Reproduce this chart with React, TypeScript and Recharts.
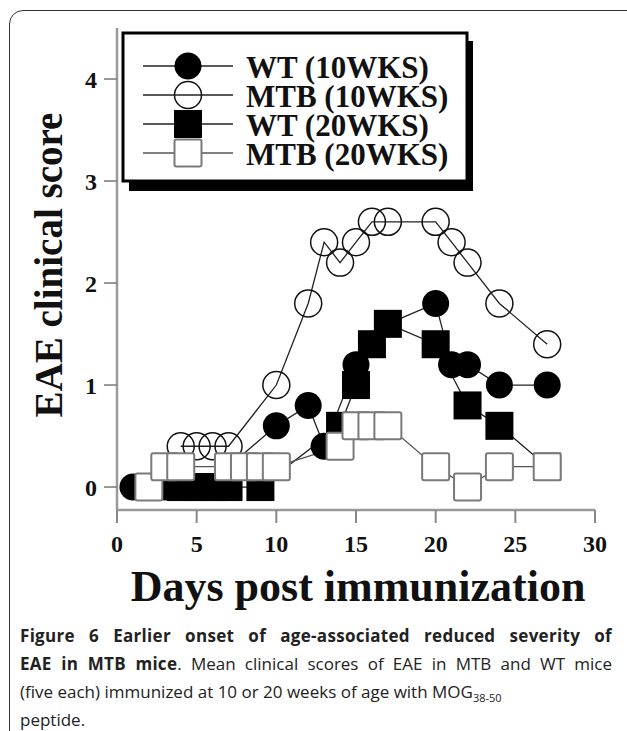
import { Legend, Line, LineChart, XAxis, YAxis } from "recharts";

// EAE clinical score by day post immunization
const wt10Days = [1, 2, 3, 4, 5, 6, 7, 10, 12, 13, 15, 16, 17, 20, 21, 22, 24, 27];
const wt10Scores = [0, 0, 0, 0, 0, 0, 0.2, 0.6, 0.8, 0.4, 1.2, 1.4, 1.6, 1.8, 1.2, 1.2, 1.0, 1.0];

const mtb10Days = [4, 5, 6, 7, 10, 12, 13, 14, 15, 16, 17, 20, 21, 22, 24, 27];
const mtb10Scores = [0.4, 0.4, 0.4, 0.4, 1.0, 1.8, 2.4, 2.2, 2.4, 2.6, 2.6, 2.6, 2.4, 2.2, 1.8, 1.4];

const wt20Days = [4, 5, 6, 7, 9, 14, 15, 16, 17, 20, 22, 24, 27];
const wt20Scores = [0, 0, 0, 0, 0, 0.6, 1.0, 1.4, 1.6, 1.4, 0.8, 0.6, 0.2];

const mtb20Days = [2, 3, 4, 7, 8, 9, 10, 14, 15, 16, 17, 20, 22, 24, 27];
const mtb20Scores = [0, 0.2, 0.2, 0.2, 0.2, 0.2, 0.2, 0.4, 0.6, 0.6, 0.6, 0.2, 0, 0.2, 0.2];

const xTicks = [0, 5, 10, 15, 20, 25, 30];
const yTicks = [0, 1, 2, 3, 4];

const seriesNames = ["WT (10WKS)", "MTB (10WKS)", "WT (20WKS)", "MTB (20WKS)"];

type Kind = "fillCircle" | "openCircle" | "fillSquare" | "openSquare";

const toPoints = (days: number[], scores: number[]) =>
  days.map((d, i) => ({ d, v: scores[i] }));

const SERIF = "'Liberation Serif', 'Times New Roman', serif";
const AXIS_GRAY = "#9a9a9a";

function Marker({ cx, cy, kind }: { cx?: number; cy?: number; kind: Kind }) {
  if (cx == null || cy == null) return null;
  if (kind === "fillCircle") return <circle cx={cx} cy={cy} r={13.5} fill="#000" />;
  if (kind === "openCircle")
    return <circle cx={cx} cy={cy} r={13.5} fill="none" stroke="#111" strokeWidth={1.5} />;
  if (kind === "fillSquare")
    return <rect x={cx - 14} y={cy - 14} width={28} height={28} fill="#000" />;
  return (
    <rect x={cx - 13.5} y={cy - 13.5} width={27} height={27} rx={2} fill="#fff" stroke="#7a7a7a" strokeWidth={2} />
  );
}

const dotFor = (kind: Kind) => (p: any) => <Marker key={`${kind}-${p.index}`} cx={p.cx} cy={p.cy} kind={kind} />;

const legendKinds: Kind[] = ["fillCircle", "openCircle", "fillSquare", "openSquare"];

function LegendBox() {
  return (
    <svg width={362} height={170}>
      <rect x={9} y={11} width={344} height={150} fill="#000" />
      <rect x={3} y={3} width={344} height={148} fill="#fff" stroke="#000" strokeWidth={3} />
      {seriesNames.map((name, i) => {
        const y = 36 + i * 29;
        const gray = legendKinds[i] === "openSquare";
        return (
          <g key={name}>
            <line x1={23} x2={113} y1={y} y2={y} stroke={gray ? "#555" : "#222"} strokeWidth={1.5} />
            <Marker cx={68} cy={y} kind={legendKinds[i]} />
            <text
              x={126}
              y={y + 1}
              dominantBaseline="central"
              fontFamily={SERIF}
              fontWeight={700}
              fontSize={31}
              fill="#111"
            >
              {name}
            </text>
          </g>
        );
      })}
    </svg>
  );
}

export default function App() {
  return (
    <div
      style={{
        position: "absolute",
        left: 0,
        top: 0,
        width: 627,
        height: 731,
        background: "#fff",
        overflow: "hidden",
        fontFamily: SERIF,
      }}
    >
      <div
        style={{
          position: "absolute",
          left: 9,
          top: 10,
          width: 660,
          height: 780,
          border: "1.5px solid #333",
          borderRadius: 14,
        }}
      />
      <div style={{ position: "absolute", left: 0, top: 0 }}>
        <LineChart width={627} height={620} margin={{ top: 28, right: 32, left: 57, bottom: 60 }}>
          <XAxis
            xAxisId="bottom"
            dataKey="d"
            type="number"
            domain={[0, 30]}
            ticks={xTicks}
            height={50}
            tickSize={13}
            tickMargin={12}
            axisLine={{ stroke: AXIS_GRAY, strokeWidth: 2.5 }}
            tickLine={{ stroke: "#888", strokeWidth: 2 }}
            tick={{ fontSize: 24, fontWeight: 700, fill: "#111", fontFamily: SERIF }}
          />
          <XAxis
            xAxisId="top"
            orientation="top"
            type="number"
            domain={[0, 30]}
            height={0}
            tick={false}
            tickLine={false}
            axisLine={{ stroke: AXIS_GRAY, strokeWidth: 2.5 }}
          />
          <YAxis
            yAxisId="left"
            type="number"
            domain={[-0.225, 4.5]}
            ticks={yTicks}
            allowDataOverflow
            width={60}
            tickSize={13}
            tickMargin={7}
            axisLine={{ stroke: AXIS_GRAY, strokeWidth: 2.5 }}
            tickLine={{ stroke: "#777", strokeWidth: 1.5 }}
            tick={{ fontSize: 24, fontWeight: 700, fill: "#111", fontFamily: SERIF }}
          />
          <YAxis
            yAxisId="right"
            orientation="right"
            type="number"
            domain={[-0.225, 4.5]}
            width={0}
            tick={false}
            tickLine={false}
            axisLine={{ stroke: AXIS_GRAY, strokeWidth: 2.5 }}
          />
          <Legend
            layout="horizontal"
            verticalAlign="middle"
            align="center"
            wrapperStyle={{ left: 120, top: 30, width: 362, height: 170 }}
            content={() => <LegendBox />}
          />
          <Line
            xAxisId="bottom"
            yAxisId="left"
            data={toPoints(mtb10Days, mtb10Scores)}
            dataKey="v"
            name={seriesNames[1]}
            stroke="#222"
            strokeWidth={1.3}
            dot={dotFor("openCircle")}
            activeDot={false}
            isAnimationActive={false}
          />
          <Line
            xAxisId="bottom"
            yAxisId="left"
            data={toPoints(wt10Days, wt10Scores)}
            dataKey="v"
            name={seriesNames[0]}
            stroke="#222"
            strokeWidth={1.3}
            dot={dotFor("fillCircle")}
            activeDot={false}
            isAnimationActive={false}
          />
          <Line
            xAxisId="bottom"
            yAxisId="left"
            data={toPoints(wt20Days, wt20Scores)}
            dataKey="v"
            name={seriesNames[2]}
            stroke="#222"
            strokeWidth={1.3}
            dot={dotFor("fillSquare")}
            activeDot={false}
            isAnimationActive={false}
          />
          <Line
            xAxisId="bottom"
            yAxisId="left"
            data={toPoints(mtb20Days, mtb20Scores)}
            dataKey="v"
            name={seriesNames[3]}
            stroke="#555"
            strokeWidth={1.3}
            dot={dotFor("openSquare")}
            activeDot={false}
            isAnimationActive={false}
          />
        </LineChart>
      </div>

      <div
        style={{
          position: "absolute",
          left: 48,
          top: 265,
          transform: "translate(-50%, -50%) rotate(-90deg)",
          whiteSpace: "nowrap",
          fontSize: 39,
          fontWeight: 700,
          color: "#111",
          lineHeight: 1,
        }}
      >
        EAE clinical score
      </div>
      <div
        style={{
          position: "absolute",
          left: 358,
          top: 587,
          transform: "translate(-50%, -50%)",
          whiteSpace: "nowrap",
          fontSize: 44,
          fontWeight: 700,
          color: "#111",
          lineHeight: 1,
        }}
      >
        Days post immunization
      </div>

      <div
        style={{
          position: "absolute",
          left: 20,
          top: 622,
          width: 592,
          fontFamily: "'Open Sans', sans-serif",
          fontSize: 17,
          lineHeight: "28px",
          color: "#222",
        }}
      >
        <div style={{ textAlign: "justify", textAlignLast: "justify", letterSpacing: 0.3 }}>
          <b>Figure 6 Earlier onset of age-associated reduced severity of</b>
        </div>
        <div style={{ textAlign: "justify", textAlignLast: "justify" }}>
          <b style={{ letterSpacing: 0.3 }}>EAE in MTB mice</b>. Mean clinical scores of EAE in MTB and WT mice
        </div>
        <div style={{ height: 28 }}>
          (five each) immunized at 10 or 20 weeks of age with MOG
          <span style={{ fontSize: 11, lineHeight: 0, position: "relative", top: 4 }}>38-50</span>
        </div>
        <div>peptide.</div>
      </div>
    </div>
  );
}
